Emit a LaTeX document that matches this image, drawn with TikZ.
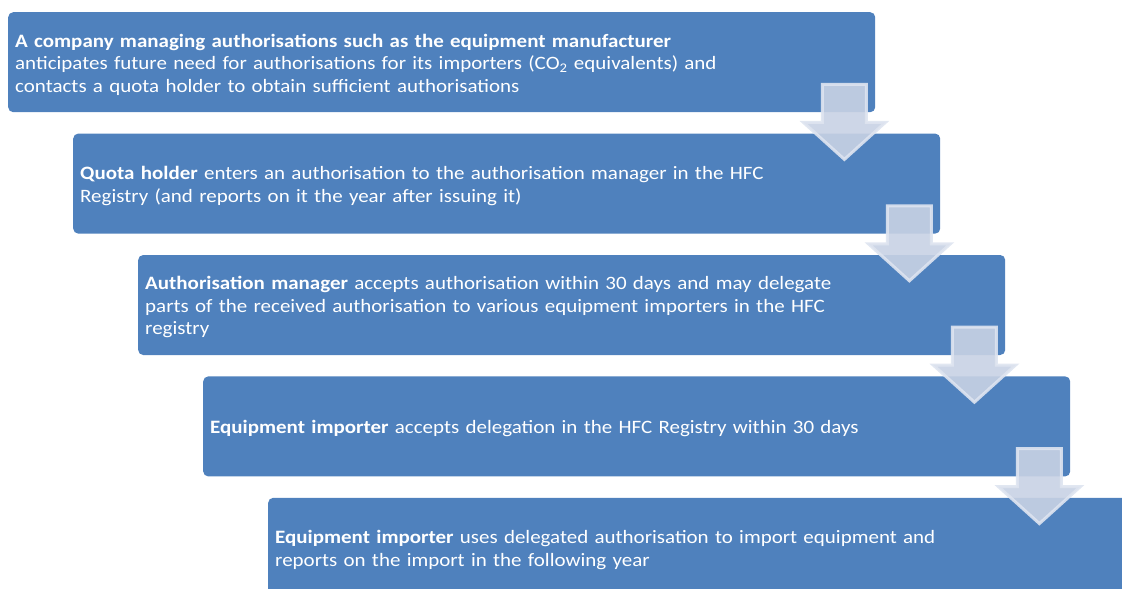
\documentclass[tikz,border=0pt]{standalone}
\usepackage{fontspec}
\setmainfont[FakeStretch=1.11]{Carlito}
\usetikzlibrary{positioning}
\definecolor{stepblue}{RGB}{79,129,189}
\definecolor{arrowfill}{RGB}{200,210,228}
\definecolor{arrowline}{RGB}{222,228,240}
\newcommand\toppad{\rule{0pt}{18pt}}
\tikzset{
  stepbox/.style={fill=stepblue, rounded corners=5pt, text=white,
    minimum width=867pt, minimum height=100pt, text width=853pt,
    inner sep=7pt, align=left,
    font=\fontsize{18.9pt}{22.6pt}\selectfont},
  steparrow/.style={fill=arrowfill, fill opacity=0.9, draw=arrowline,
    draw opacity=0.9, line width=3pt, line join=miter}
}
\begin{document}
\begin{tikzpicture}[x=1pt, y=-1pt]
\clip (0,0) rectangle (1122,589);
\node[stepbox, anchor=north west] (mfr) at (8,12)
  {\toppad\textbf{A company managing authorisations such as the equipment manufacturer}\\
   anticipates future need for authorisations for its importers (CO\textsubscript{2} equivalents) and\\
   contacts a quota holder to obtain sufficient authorisations};
\node[stepbox, below right=21pt and 65pt of mfr.south west] (holder)
  {\toppad\textbf{Quota holder} enters an authorisation to the authorisation manager in the HFC\\
   Registry (and reports on it the year after issuing it)};
\node[stepbox, below right=21pt and 65pt of holder.south west] (manager)
  {\toppad\textbf{Authorisation manager} accepts authorisation within 30 days and may delegate\\
   parts of the received authorisation to various equipment importers in the HFC\\
   registry};
\node[stepbox, below right=21pt and 65pt of manager.south west] (importer)
  {\toppad\textbf{Equipment importer} accepts delegation in the HFC Registry within 30 days};
\node[stepbox, below right=21pt and 65pt of importer.south west] (use)
  {\toppad\textbf{Equipment importer} uses delegated authorisation to import equipment and\\
   reports on the import in the following year};
% block arrows between the steps
\foreach \a/\b in {mfr/holder, holder/manager, manager/importer, importer/use}
  \draw[steparrow] ([shift={(-53,-28)}]\a.south east)
    -- ([shift={(-53,10)}]\a.south east) -- ([shift={(-72,10)}]\a.south east)
    -- ([shift={(-96,26)}]\b.north east)
    -- ([shift={(10,10)}]\a.south east) -- ([shift={(-9,10)}]\a.south east)
    -- ([shift={(-9,-28)}]\a.south east) -- cycle;
\end{tikzpicture}
\end{document}
